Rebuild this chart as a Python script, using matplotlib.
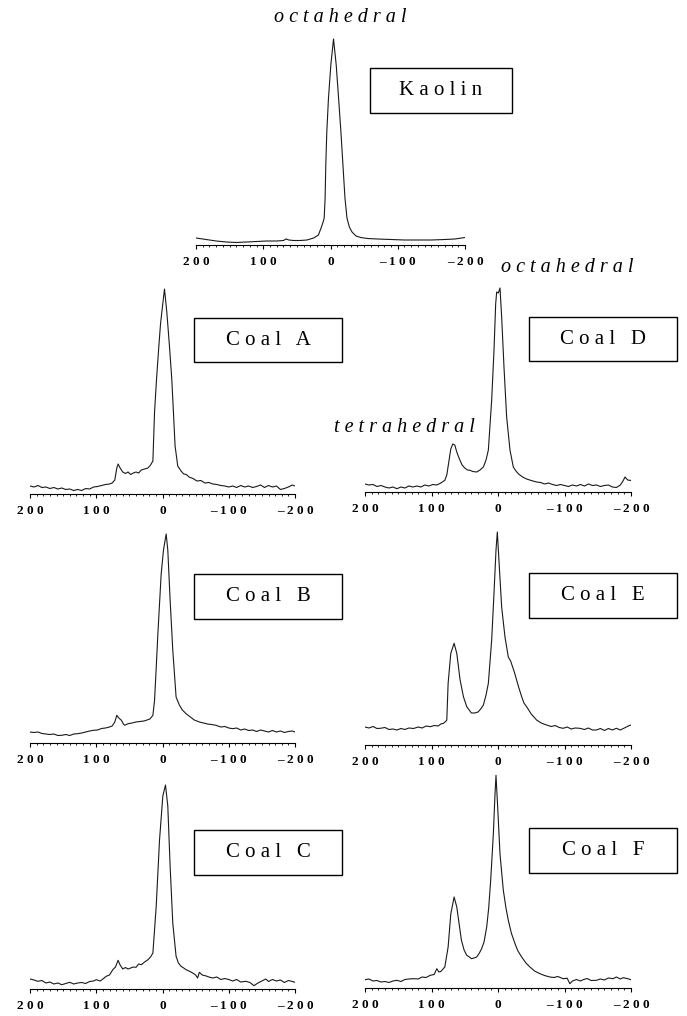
import matplotlib
matplotlib.use("Agg")
import matplotlib.pyplot as plt
from matplotlib.patches import Rectangle
from matplotlib.ticker import MultipleLocator

# spectra: chemical shift (ppm) and height above the axis line (px)
KAOLIN_PPM = [200, 185, 170, 155, 140, 125, 110, 95, 80, 70, 66, 62, 55, 45, 35, 25, 18, 14, 11, 9.4, 8, 7,
              5.5, 3, -0.5, -4.5, -8.5, -12, -15.5, -18.5, -21.5, -24.5, -28, -32, -38, -45, -55, -70, -90,
              -110, -130, -150, -170, -185, -200]
KAOLIN_I = [7, 5.5, 4, 3, 2.5, 3, 3.5, 4, 4, 4.5, 6, 5, 4.5, 4.5, 5, 7, 10, 17, 23, 27, 47, 80,
            113, 147, 180, 206, 180, 147, 113, 80, 47, 27, 18, 13, 9, 7.5, 6.5, 6, 5.5,
            5, 5, 5, 5.5, 6, 7.5]

COAL_A_PPM = [200, 194, 188, 182, 176, 170, 164, 158, 152, 146, 140, 134, 128, 122, 116, 110, 104, 98, 92, 86,
              80, 76, 72, 69, 67, 64, 60, 56, 52, 48, 44, 40, 36, 32, 27, 22, 18, 14.5, 12, 9, 5.5, 3, 1, -3,
              -6.5, -10.5, -14, -16.5, -19, -23, -28, -32, -36, -40, -46, -52, -58, -64, -70, -76, -82, -88,
              -94, -100, -106, -112, -118, -124, -130, -136, -142, -148, -154, -160, -166, -172, -178, -184,
              -190, -196, -200]
COAL_A_I = [8, 7, 8.5, 6.5, 7, 5.5, 6.5, 5, 6, 4.5, 5, 3.5, 4.5, 3.5, 5.5, 5, 7, 7.5, 8.5, 9.5,
            10, 11, 14, 26, 30, 26, 22, 20.5, 22, 19.5, 21, 22, 21, 24, 25, 26, 29, 33, 82, 115, 148, 170, 182, 205,
            182, 148, 115, 82, 48, 28, 23, 20, 19.5, 17, 15.5, 13, 13.5, 11, 11.5, 10, 9.5, 8.5,
            8, 7, 8, 6.5, 8.5, 7, 8, 6.5, 7.5, 9, 6.5, 8.5, 7, 8, 4.5, 5.5,
            7, 9, 8]

COAL_D_PPM = [200, 194, 188, 182, 176, 170, 164, 158, 152, 146, 140, 134, 128, 122, 116, 110, 104, 98, 92, 86,
              80, 77, 74, 71, 68, 65, 62, 58, 54, 50, 46, 42, 38, 32, 27, 22, 18, 14.5, 9.5, 6, 3.5, 2, -0.5, -3,
              -5.5, -9, -13, -18, -23, -27, -31, -37, -43, -50, -58, -64, -70, -76, -82, -88, -94, -100,
              -106, -112, -118, -124, -130, -136, -142, -148, -154, -160, -166, -172, -178, -184, -188, -191,
              -195, -200]
COAL_D_I = [8, 7, 7.5, 5.5, 6.5, 5, 4, 5, 3.3, 5, 4, 6, 5, 6, 5, 7, 6, 7.5, 7, 9,
            11.7, 17, 30, 43, 48, 47, 40, 33, 27, 24, 22, 21.7, 20.5, 20, 22, 25, 32, 42, 92, 142, 188, 200, 199, 204,
            175, 125, 75, 42, 25, 21, 18, 15, 13, 11.5, 10, 9.5, 8, 9, 7.5, 6.5, 7.5, 6.5,
            5.5, 7, 6, 7.5, 6, 8, 6.5, 7, 5.5, 6.5, 7, 5, 4.5, 7, 11, 15,
            12, 11.5]

COAL_B_PPM = [200, 194, 188, 182, 176, 170, 164, 158, 152, 146, 140, 134, 128, 122, 116, 110, 104, 98, 92, 86,
              80, 76, 72, 69, 66, 62, 59, 57, 52, 46, 40, 34, 28, 24.6, 19, 14.5, 12, 9.5, 7, 4, 2, -1.5, -5.5,
              -8, -11.5, -15.5, -20.5, -25.6, -30, -35.6, -42, -48, -55.6, -62, -68, -74, -80.7, -88, -94,
              -100, -106, -112, -118, -124, -130, -136, -142, -148, -154, -160, -166, -172, -178, -184, -190,
              -196, -200]
COAL_B_I = [11, 10.5, 11, 9.5, 9, 8.5, 9, 7.5, 7.7, 8.5, 7.5, 9, 9.3, 10, 11, 12, 12.7, 13, 14.5, 15,
            16, 17, 21, 27.7, 25, 22.7, 19, 17.7, 19.3, 20, 21, 21.5, 22, 22.7, 24, 27.7, 42.7, 75, 109, 145, 169, 193, 209,
            193, 143, 93, 46, 37.7, 33, 29.3, 26, 23, 21, 20, 19, 18.5, 17.7, 16, 16.5,
            15, 14.3, 15, 13, 14, 12.5, 13, 11.5, 13, 12, 11, 12.5, 11, 12, 10.5, 11.5,
            12, 11]

COAL_E_PPM = [200, 194, 188, 182, 177, 170, 164, 158, 152, 146, 140, 134, 127, 120, 114, 108, 102, 96, 90, 86,
              82, 78, 77, 75, 71, 66, 62, 57, 52, 47, 40, 35, 30, 26, 22, 18, 14.5, 9.5, 6, 3, 1, -2, -5.5,
              -10.5, -15.5, -19, -22, -25, -28, -31, -35.6, -39, -43, -50, -58, -65, -73, -80, -86, -92, -98,
              -104, -110, -116, -123, -130, -136, -142, -148, -154, -160, -166, -172, -178, -184, -190, -196,
              -200]
COAL_E_I = [18, 17, 18.5, 16.5, 16.7, 17.5, 15.5, 16, 15, 16.5, 15.5, 17, 16.5, 18, 17, 19, 18.3, 19.5, 19, 21,
            21.7, 24, 25, 61.7, 91.7, 101.7, 91.7, 65, 48.3, 38.3, 32, 32, 33, 36, 40, 50, 61.7, 105, 152, 195, 213, 178, 138,
            108, 88, 84, 78, 72, 65, 58, 48.3, 42, 38.3, 31, 25, 22, 20, 18.5, 19.5, 17.5, 16.7,
            18, 16, 17, 16.7, 15.5, 17, 15, 15, 16.5, 14.5, 16.5, 15, 16.7, 15, 17, 19,
            20]

COAL_C_PPM = [200, 194, 188, 182, 176, 170, 164, 158, 152, 146, 140, 134, 128, 122, 116, 110, 104, 100, 94, 88,
              85, 80, 75, 71, 67, 64, 60, 56, 52, 48, 44, 40, 36, 32, 27, 22, 18, 14.5, 9.5, 4.5, -0.5, -4.5,
              -8, -11.5, -15.5, -20.5, -24, -28, -32, -35.6, -40, -45.6, -50, -53, -55.6, -60, -66, -70,
              -75.7, -82, -88, -94, -100.8, -106, -112, -118, -125.8, -132, -138, -144, -150, -156, -160,
              -166, -172, -178, -184, -190, -196, -200]
COAL_C_I = [10, 9, 7.7, 8.5, 6, 7, 5, 6, 4.3, 5.5, 6.7, 5, 6, 6.5, 5.5, 7.5, 8, 9.3, 8, 11,
            12.7, 14, 19.3, 22, 28.7, 24, 20, 21.5, 20, 21, 22, 21.7, 25, 24.3, 27, 29.3, 32, 36, 82.7, 149, 193, 204,
            183, 123, 66, 32.7, 26, 22.7, 21, 19.3, 18, 16, 14, 11, 16.7, 14, 13, 12,
            11, 12, 9.5, 10.5, 9.3, 8, 9.5, 7, 7.7, 6.5, 3.3, 6, 8, 10, 7.5,
            9.5, 8, 9, 6.5, 8.5, 7.5, 6.7]

COAL_F_PPM = [200, 194, 188, 182, 176, 170, 164, 158, 152, 146, 140, 134, 127, 120, 114, 108, 102, 96, 92, 89,
              86, 80, 75, 71, 66, 62, 58, 55, 51, 47, 43, 40, 36, 32, 28, 24.6, 21, 17, 14, 11, 7, 4.5, 3, 0.5,
              -3, -8, -12, -15.5, -20, -25.6, -30, -35.6, -42, -48, -55, -63, -70, -78, -84, -90, -98, -104,
              -108, -112, -118, -124, -128, -134, -140, -148, -154, -160, -166, -173, -178, -184, -188, -194,
              -200]
COAL_F_I = [8.3, 9, 7, 7.5, 6, 6.5, 5.5, 7, 7.7, 6.5, 8.5, 9, 9.3, 9, 11, 10.5, 12.7, 13.5, 19.3, 16,
            16.5, 21, 41, 74, 91, 81, 62, 47.7, 38, 32.7, 31, 29.3, 30, 31, 35, 39.3, 46, 61, 80, 107.7, 154, 194, 212.7, 181,
            134, 97.7, 80, 67.7, 55, 44.3, 37, 31, 25, 21, 17, 14.3, 12.5, 11, 10.5, 11.5, 9.3, 9.8,
            4.3, 7, 8.5, 7, 8.3, 9.5, 7.5, 7.7, 9, 8, 10, 9.3, 11, 9, 10.3, 9.5,
            8.3]

TICKS = [200, 100, 0, -100, -200]
TICK_LABELS = ["2 0 0", "1 0 0", "0", "\u2013 1 0 0", "\u2013 2 0 0"]

W, H = 687, 1016
plt.rcParams['font.family'] = ['Liberation Serif', 'DejaVu Serif']
fig = plt.figure(figsize=(W / 100, H / 100), dpi=100)


def add_panel(left, axis_y, width, ppm, inten):
    ax = fig.add_axes([left / W, (H - axis_y) / H, width / W, 215 / H])
    ax.plot(ppm, inten, color="#1a1a1a", lw=0.8)
    ax.set_xlim(200, -200)
    ax.set_ylim(0, 215)
    for side in ["top", "left", "right"]:
        ax.spines[side].set_visible(False)
    ax.spines["bottom"].set_linewidth(0.8)
    ax.set_yticks([])
    ax.set_xticks(TICKS)
    ax.set_xticklabels(TICK_LABELS, fontweight="bold", fontsize=9.5)
    ax.xaxis.set_minor_locator(MultipleLocator(10))
    ax.tick_params(axis="x", which="major", length=3, width=0.8, pad=5)
    ax.tick_params(axis="x", which="minor", length=1.5, width=0.6)
    ax.patch.set_visible(False)
    return ax


def add_box(x0, y0, x1, y1, label):
    fig.add_artist(Rectangle((x0 / W, 1 - y1 / H), (x1 - x0) / W, (y1 - y0) / H,
                             transform=fig.transFigure, fill=False, lw=1.0, ec="black"))
    fig.text((x0 + x1) / 2 / W, 1 - (y0 + y1) / 2 / H, label, ha="center", va="center", fontsize=15)


add_panel(196, 245, 269, KAOLIN_PPM, KAOLIN_I)
add_panel(30, 494, 265, COAL_A_PPM, COAL_A_I)
add_panel(365, 492, 266, COAL_D_PPM, COAL_D_I)
add_panel(30, 743, 265, COAL_B_PPM, COAL_B_I)
add_panel(365, 745, 266, COAL_E_PPM, COAL_E_I)
add_panel(30, 989, 265, COAL_C_PPM, COAL_C_I)
add_panel(365, 988, 266, COAL_F_PPM, COAL_F_I)

add_box(370, 68, 512, 113, "K a o l i n")
add_box(194, 318, 342, 362, "C o a l   A")
add_box(529, 317, 677, 361, "C o a l   D")
add_box(194, 574, 342, 619, "C o a l   B")
add_box(529, 573, 677, 618, "C o a l   E")
add_box(194, 830, 342, 875, "C o a l   C")
add_box(529, 828, 677, 873, "C o a l   F")

fig.text(340 / W, 1 - 18 / H, "o c t a h e d r a l", style="italic", fontsize=14.5, ha="center", va="center")
fig.text(567 / W, 1 - 268 / H, "o c t a h e d r a l", style="italic", fontsize=14.5, ha="center", va="center")
fig.text(404 / W, 1 - 428 / H, "t e t r a h e d r a l", style="italic", fontsize=14.5, ha="center", va="center")

fig.savefig("out.png", dpi=100)
